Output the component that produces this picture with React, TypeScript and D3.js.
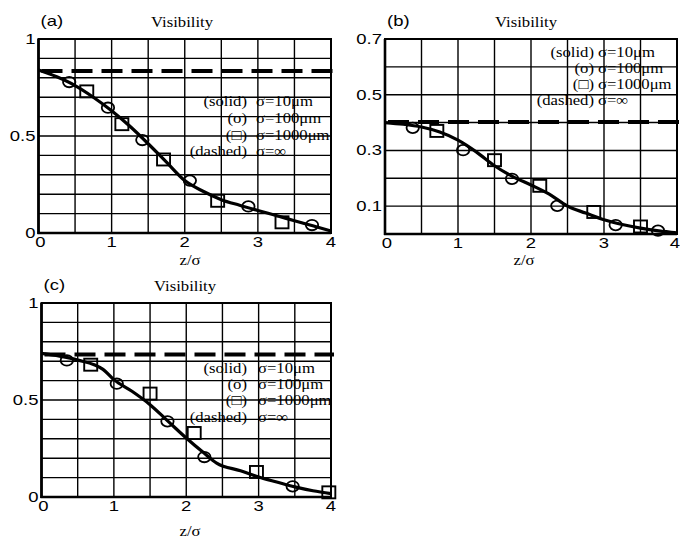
import React from 'react';
import * as d3 from 'd3';

type Pt = [number, number];

// shared axis values
const xTicks = [0, 1, 2, 3, 4];
const xGrid = [0, 0.5, 1, 1.5, 2, 2.5, 3, 3.5, 4];
const legendRows = [
  ['(solid)', 'σ=10μm'],
  ['(o)', 'σ=100μm'],
  ['(□)', 'σ=1000μm'],
  ['(dashed)', 'σ=∞'],
];

// panel (a)
const solidA: Pt[] = [[0, 0.84], [0.25, 0.805], [0.5, 0.76], [0.75, 0.7], [1, 0.63], [1.25, 0.55], [1.5, 0.46], [1.75, 0.365], [2, 0.27], [2.25, 0.215], [2.5, 0.172], [2.75, 0.143], [3, 0.116], [3.25, 0.09], [3.5, 0.063], [3.75, 0.037], [4, 0.01]];
const circlesA: Pt[] = [[0.42, 0.778], [0.95, 0.646], [1.42, 0.479], [2.07, 0.27], [2.87, 0.137], [3.74, 0.041]];
const squaresA: Pt[] = [[0.66, 0.73], [1.14, 0.561], [1.71, 0.379], [2.45, 0.166], [3.33, 0.055]];
const dashedA = 0.835;
const yTicksA = [0, 0.5, 1];
const yGridA = [0, 0.1, 0.2, 0.3, 0.4, 0.5, 0.6, 0.7, 0.8, 0.9, 1];

// panel (b)
const solidB: Pt[] = [[0, 0.4], [0.25, 0.394], [0.5, 0.384], [0.75, 0.366], [1, 0.337], [1.25, 0.295], [1.5, 0.245], [1.75, 0.206], [2, 0.176], [2.25, 0.143], [2.5, 0.1], [2.75, 0.075], [3, 0.051], [3.25, 0.034], [3.5, 0.021], [3.75, 0.011], [4, 0.004]];
const circlesB: Pt[] = [[0.38, 0.381], [1.07, 0.301], [1.74, 0.198], [2.36, 0.101], [3.16, 0.032], [3.74, 0.012]];
const squaresB: Pt[] = [[0.71, 0.37], [1.5, 0.265], [2.12, 0.173], [2.86, 0.079], [3.5, 0.027]];
const dashedB = 0.402;
const yTicksB = [0.1, 0.3, 0.5, 0.7];
const yGridB = [0, 0.1, 0.2, 0.3, 0.4, 0.5, 0.6, 0.7];

// panel (c)
const solidC: Pt[] = [[0, 0.74], [0.25, 0.726], [0.5, 0.706], [0.85, 0.658], [1, 0.605], [1.25, 0.545], [1.5, 0.476], [1.75, 0.39], [2, 0.304], [2.25, 0.225], [2.42, 0.175], [2.75, 0.135], [3, 0.103], [3.25, 0.077], [3.5, 0.052], [3.75, 0.032], [4, 0.017]];
const circlesC: Pt[] = [[0.35, 0.704], [1.04, 0.584], [1.74, 0.39], [2.25, 0.206], [3.47, 0.055]];
const squaresC: Pt[] = [[0.68, 0.682], [1.5, 0.533], [2.11, 0.33], [2.97, 0.129], [3.97, 0.024]];
const dashedC = 0.735;
const yTicksC = [0, 0.5, 1];
const yGridC = yGridA;

const SANS = 'Liberation Sans, Arial, sans-serif';
const SERIF = 'Liberation Serif, Times New Roman, serif';
const SANS_SIZE = 14;
const SANS_SX = 1.32;
const SERIF_SIZE = 14.5;
const SERIF_SX = 1.15;

function Txt({ x, y, sx, anchor = 'start', font, size, children }: any) {
  return (
    <text
      transform={`translate(${x},${y}) scale(${sx},1)`}
      textAnchor={anchor}
      fontFamily={font}
      fontSize={size}
      fill="#000"
    >
      {children}
    </text>
  );
}

function Panel({ p }: any) {
  const x = d3.scaleLinear().domain([0, 4]).range([p.left, p.right]);
  const y = d3.scaleLinear().domain([0, p.yMax]).range([p.bottom, p.top]);
  const line = d3.line<Pt>().x(d => x(d[0])).y(d => y(d[1])).curve(d3.curveMonotoneX);

  return (
    <g>
      <Txt x={p.left + 2} y={p.top - 13} sx={SANS_SX} font={SANS} size={SANS_SIZE}>{p.label}</Txt>
      <Txt x={p.titleX} y={p.top - 12} sx={SERIF_SX} anchor="middle" font={SERIF} size={SERIF_SIZE}>Visibility</Txt>

      {/* legend text sits under the grid */}
      {legendRows.map((r, i) => (
        <g key={i}>
          <Txt x={p.legX1} y={p.legY + i * p.legDy} sx={SERIF_SX} anchor="end" font={SERIF} size={SERIF_SIZE}>{r[0]}</Txt>
          <Txt x={p.legX2} y={p.legY + i * p.legDy} sx={SERIF_SX} font={SERIF} size={SERIF_SIZE}>{r[1]}</Txt>
        </g>
      ))}

      {p.yGrid.map((v: number) => (
        <line key={'h' + v} x1={p.left} x2={p.right} y1={y(v)} y2={y(v)} stroke="#000" strokeWidth={1.4} />
      ))}
      {xGrid.map(v => (
        <line key={'v' + v} x1={x(v)} x2={x(v)} y1={p.top} y2={p.bottom} stroke="#000" strokeWidth={1.4} />
      ))}
      <rect x={p.left} y={p.top} width={p.right - p.left} height={p.bottom - p.top} fill="none" stroke="#000" strokeWidth={2} />
      <line x1={p.left} x2={p.left} y1={p.top} y2={p.bottom + 1} stroke="#000" strokeWidth={2.6} />
      <line x1={p.left - 1} x2={p.right} y1={p.bottom} y2={p.bottom} stroke="#000" strokeWidth={2.6} />

      <line x1={x(0)} x2={x(4)} y1={y(p.dashed)} y2={y(p.dashed)} stroke="#000" strokeWidth={4} strokeDasharray="21 9" transform="translate(3,0)" />
      <path d={line(p.solid) || ''} fill="none" stroke="#000" strokeWidth={3.2} strokeLinejoin="round" />

      {p.circles.map((d: Pt, i: number) => (
        <ellipse key={'c' + i} cx={x(d[0])} cy={y(d[1])} rx={6.2} ry={5.2} fill="none" stroke="#000" strokeWidth={1.8} />
      ))}
      {p.squares.map((d: Pt, i: number) => (
        <rect key={'s' + i} x={x(d[0]) - 6.5} y={y(d[1]) - 6} width={13} height={12} fill="none" stroke="#000" strokeWidth={1.9} />
      ))}

      {p.yTicks.map((v: number) => (
        <Txt key={'yt' + v} x={p.left - 3} y={y(v) + 5} sx={SANS_SX} anchor="end" font={SANS} size={SANS_SIZE}>{String(v)}</Txt>
      ))}
      {xTicks.map(v => {
        const px = x(v) + (v === 0 ? 2 : 0);
        const edge = px + 5 > 680;
        return (
          <Txt key={'xt' + v} x={edge ? 680 : px} y={p.bottom + 14} sx={SANS_SX} anchor={edge ? 'end' : 'middle'} font={SANS} size={SANS_SIZE}>{String(v)}</Txt>
        );
      })}
      <Txt x={p.xLabelX} y={p.xLabelY} sx={SERIF_SX} anchor="middle" font={SERIF} size={14.5}>z/σ</Txt>
    </g>
  );
}

const panels = [
  { label: '(a)', left: 38.5, right: 331, top: 39, bottom: 233, yMax: 1, solid: solidA, circles: circlesA, squares: squaresA, dashed: dashedA, yTicks: yTicksA, yGrid: yGridA, titleX: 182, legX1: 247, legX2: 256, legY: 106, legDy: 16.8, xLabelX: 190, xLabelY: 265 },
  { label: '(b)', left: 385, right: 677, top: 39, bottom: 234, yMax: 0.7, solid: solidB, circles: circlesB, squares: squaresB, dashed: dashedB, yTicks: yTicksB, yGrid: yGridB, titleX: 526, legX1: 594, legX2: 598, legY: 57, legDy: 16, xLabelX: 524, xLabelY: 265 },
  { label: '(c)', left: 41.5, right: 331, top: 303, bottom: 497, yMax: 1, solid: solidC, circles: circlesC, squares: squaresC, dashed: dashedC, yTicks: yTicksC, yGrid: yGridC, titleX: 185, legX1: 247, legX2: 258, legY: 373, legDy: 16.2, xLabelX: 190, xLabelY: 536 },
];

export default function App() {
  return (
    <svg width={680} height={539} style={{ position: 'absolute', left: 0, top: 0, background: '#fff' }}>
      <rect width={680} height={539} fill="#fff" />
      {panels.map(p => <Panel key={p.label} p={p} />)}
    </svg>
  );
}
